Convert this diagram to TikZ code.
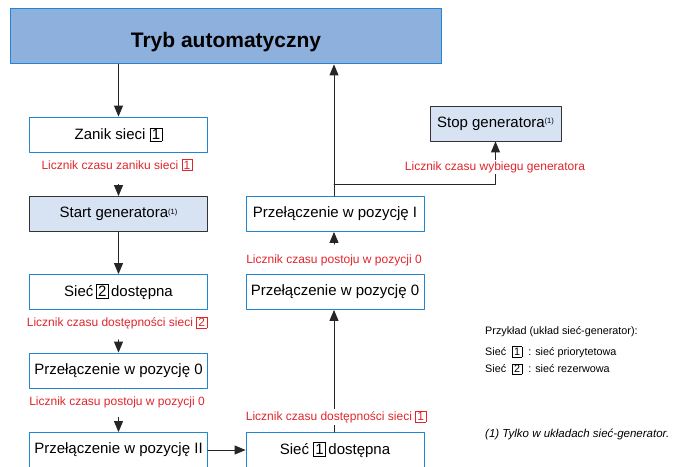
\documentclass[tikz,border=0pt]{standalone}
\usepackage{fontspec}
\setmainfont{Liberation Sans}
\usetikzlibrary{arrows.meta}
\usepackage{color}
\definecolor{tytulfill}{HTML}{8DB0DC}
\definecolor{ramka}{HTML}{2185D0}
\definecolor{genfill}{HTML}{D7E2F3}
\definecolor{licred}{HTML}{E0262D}
\newcommand{\nr}[1]{{\setlength{\fboxsep}{1.2pt}\setlength{\fboxrule}{0.5pt}\fbox{\makebox[0.62em]{#1}}}}
\newcommand{\przyp}{{\fontsize{7.5}{7.5}\selectfont\raisebox{0.9ex}{(1)}}}

\begin{document}
\begin{tikzpicture}[line cap=round,line join=round,>={Triangle[length=11pt,width=9pt]},x=1pt,y=-1pt,
  tytul/.style={draw=ramka,line width=1.8pt,fill=tytulfill,minimum width=431pt,minimum height=55pt,
    inner sep=0pt,text height=22pt,text depth=0pt,font=\fontsize{21}{24}\selectfont\bfseries},
  blok/.style={draw=ramka,line width=0.8pt,fill=white,minimum width=178pt,minimum height=35pt,
    inner sep=0pt,font=\fontsize{15}{18}\selectfont},
  gen/.style={blok,draw=black!80,fill=genfill},
  licznik/.style={text=licred,fill=white,inner sep=1.5pt,font=\fontsize{12}{14}\selectfont},
  opis/.style={anchor=west,inner sep=0pt,font=\fontsize{10.8}{13}\selectfont},
  polacz/.style={draw=black!85,line width=0.9pt,->}]
\clip (0,0) rectangle (674,466);
% glowny tryb
\node[tytul] (tryb) at (226,36) {Tryb automatyczny};
% lewa kolumna
\node[blok] (zanik) at (118.5,134.5) {Zanik sieci \nr{1}};
\node[gen] (start) at (118.5,214) {Start generatora\przyp};
\node[blok] (siecdwa) at (118.5,292) {Sieć\,\nr{2}\,dostępna};
\node[blok] (zerolewo) at (118.5,370.5) {Przełączenie w pozycję 0};
\node[blok] (pozdwa) at (118.5,450) {Przełączenie w pozycję II};
% prawa kolumna
\node[blok] (pozjeden) at (335,214) {Przełączenie w pozycję I};
\node[blok] (zeroprawo) at (335,292) {Przełączenie w pozycję 0};
\node[blok] (siecjeden) at (335,450) {Sieć \nr{1}\,dostępna};
\node[gen,minimum width=131pt] (stop) at (495.5,123.5) {Stop generatora\przyp};
\coordinate (rozg) at (334,184);

\draw[polacz] (zanik.north |- tryb.south) -- (zanik.north);
\draw[polacz,shorten <=32pt] (zanik) -- (start);
\draw[polacz] (start) -- (siecdwa);
\draw[polacz,shorten <=30pt] (siecdwa) -- (zerolewo);
\draw[polacz,shorten <=29pt] (zerolewo) -- (pozdwa);
\draw[polacz] (pozdwa) -- (siecjeden);
\draw[polacz] (siecjeden.north -| rozg) -- (zeroprawo.south -| rozg);
\draw[polacz,shorten <=30pt] (zeroprawo.north -| rozg) -- (pozjeden.south -| rozg);
\draw[polacz] (pozjeden.north -| rozg) -- (tryb.south -| rozg);
\draw[polacz] (rozg) -| (stop.south);

% liczniki
\node[licznik] (lzanik) at (117,165) {Licznik czasu zaniku sieci \nr{1}};
\node[licznik] (ldwa) at (117,323) {Licznik czasu dostępności sieci \nr{2}};
\node[licznik] (lzero) at (117,402) {Licznik czasu postoju w pozycji 0};
\node[licznik] (lzeroprawo) at (334,260) {Licznik czasu postoju w pozycji 0};
\node[licznik] (ljeden) at (336,417) {Licznik czasu dostępności sieci \nr{1}};
\node[licznik] (lstop) at (495,167) {Licznik czasu wybiegu generatora};

% legenda
\node[opis] (leg) at (485,332) {Przykład (układ sieć-generator):};
\node[opis] (legjeden) at (485,352) {Sieć \ \nr{1} \ : sieć priorytetowa};
\node[opis] (legdwa) at (485,369) {Sieć \ \nr{2} \ : sieć rezerwowa};
\node[opis,font=\fontsize{11.5}{13}\selectfont\itshape] (uwaga) at (485,434) {(1) Tylko w układach sieć-generator.};
\end{tikzpicture}
\end{document}
